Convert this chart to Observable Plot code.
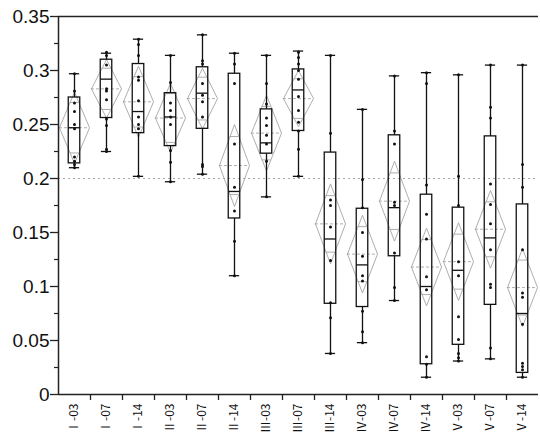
<!DOCTYPE html>
<html>
<head>
<meta charset="utf-8">
<script src="https://cdn.jsdelivr.net/npm/d3@7"></script>
<script src="https://cdn.jsdelivr.net/npm/@observablehq/plot@0.6"></script>
<style>
  html, body { margin: 0; padding: 0; background: #fff; }
  svg { display: block; }
</style>
</head>
<body>
<div id="chart"></div>
<script>
const categories = ["Ⅰ-03","Ⅰ-07","Ⅰ-14","Ⅱ-03","Ⅱ-07","Ⅱ-14","Ⅲ-03","Ⅲ-07","Ⅲ-14","Ⅳ-03","Ⅳ-07","Ⅳ-14","Ⅴ-03","Ⅴ-07","Ⅴ-14"];
const whiskerHigh = [0.297, 0.316, 0.329, 0.314, 0.333, 0.316, 0.314, 0.318, 0.314, 0.264, 0.295, 0.298, 0.296, 0.305, 0.305];
const q3 =          [0.275, 0.310, 0.306, 0.279, 0.303, 0.297, 0.264, 0.301, 0.224, 0.172, 0.240, 0.185, 0.173, 0.239, 0.176];
const median =      [0.247, 0.292, 0.262, 0.257, 0.279, 0.188, 0.233, 0.282, 0.144, 0.120, 0.173, 0.100, 0.115, 0.145, 0.075];
const q1 =          [0.214, 0.256, 0.242, 0.230, 0.246, 0.163, 0.223, 0.244, 0.084, 0.081, 0.128, 0.028, 0.046, 0.083, 0.020];
const whiskerLow =  [0.210, 0.225, 0.202, 0.197, 0.204, 0.110, 0.183, 0.202, 0.038, 0.048, 0.087, 0.016, 0.031, 0.033, 0.016];
const means =       [0.247, 0.283, 0.271, 0.256, 0.274, 0.212, 0.242, 0.274, 0.158, 0.130, 0.179, 0.118, 0.123, 0.153, 0.099];
const ciHalf =      [0.033, 0.027, 0.033, 0.032, 0.028, 0.038, 0.035, 0.026, 0.037, 0.036, 0.037, 0.036, 0.036, 0.036, 0.036];
const pointValues = [
  [0.297, 0.281, 0.270, 0.262, 0.250, 0.246, 0.220, 0.216, 0.213, 0.210],
  [0.317, 0.314, 0.305, 0.283, 0.281, 0.273, 0.255, 0.249, 0.227, 0.225],
  [0.329, 0.324, 0.314, 0.294, 0.291, 0.272, 0.257, 0.250, 0.246, 0.202],
  [0.314, 0.289, 0.270, 0.263, 0.257, 0.250, 0.226, 0.215, 0.197],
  [0.333, 0.309, 0.306, 0.288, 0.277, 0.271, 0.257, 0.213, 0.211, 0.204],
  [0.316, 0.306, 0.288, 0.232, 0.192, 0.170, 0.142, 0.110],
  [0.314, 0.288, 0.269, 0.256, 0.249, 0.240, 0.232, 0.216, 0.183],
  [0.317, 0.312, 0.306, 0.300, 0.292, 0.276, 0.263, 0.252, 0.244, 0.227, 0.202],
  [0.314, 0.242, 0.180, 0.175, 0.155, 0.124, 0.085, 0.071, 0.038],
  [0.264, 0.199, 0.173, 0.150, 0.128, 0.110, 0.105, 0.077, 0.058, 0.048],
  [0.295, 0.244, 0.232, 0.178, 0.175, 0.131, 0.099, 0.087],
  [0.298, 0.288, 0.194, 0.167, 0.144, 0.109, 0.097, 0.035, 0.028, 0.016],
  [0.296, 0.202, 0.175, 0.123, 0.110, 0.072, 0.051, 0.038, 0.034, 0.031],
  [0.305, 0.266, 0.256, 0.195, 0.176, 0.158, 0.134, 0.102, 0.099, 0.043, 0.033],
  [0.305, 0.213, 0.192, 0.134, 0.094, 0.090, 0.065, 0.029, 0.026, 0.023, 0.016]
];
const yTicks = [0, 0.05, 0.1, 0.15, 0.2, 0.25, 0.3, 0.35];
const yMinorTicks = [0.025, 0.075, 0.125, 0.175, 0.225, 0.275, 0.325];
const referenceLine = 0.2;

// derived tables
const idx = categories.map((_, i) => i);
const stats = idx.map(i => ({
  i, lo: whiskerLow[i], q1: q1[i], med: median[i], q3: q3[i], hi: whiskerHigh[i],
  mean: means[i], ci: ciHalf[i]
}));
const dW = 0.47;   // diamond half width (category units)
const bW = 0.18;   // box half width
const cW = 0.16;   // cap half width
const diamond = stats.flatMap(s => [
  {i: s.i, x: s.i - dW, y: s.mean},
  {i: s.i, x: s.i, y: s.mean + s.ci},
  {i: s.i, x: s.i + dW, y: s.mean},
  {i: s.i, x: s.i, y: s.mean - s.ci},
  {i: s.i, x: s.i - dW, y: s.mean}
]);
const k = 1 - Math.SQRT1_2;
const overlap = stats.flatMap(s => [
  {i: s.i, y: s.mean + s.ci * Math.SQRT1_2},
  {i: s.i, y: s.mean - s.ci * Math.SQRT1_2}
]);
const points = pointValues.flatMap((vals, i) => vals.map(v => ({i, v})));

const chart = Plot.plot({
  width: 540,
  height: 436,
  marginLeft: 58,
  marginRight: 2,
  marginTop: 16,
  marginBottom: 42,
  x: {type: "linear", domain: [-0.5, 14.5]},
  y: {domain: [0, 0.35]},
  style: {fontFamily: "'Liberation Sans', Arial, sans-serif", background: "#fff"},
  marks: [
    Plot.ruleY([referenceLine], {stroke: "#aaa", strokeWidth: 1, strokeDasharray: "2,3"}),
    // means diamonds
    Plot.line(diamond, {x: "x", y: "y", z: "i", stroke: "#a5a5a5", strokeWidth: 0.9}),
    Plot.ruleY(stats, {y: "mean", x1: d => d.i - dW, x2: d => d.i + dW, stroke: "#a5a5a5", strokeWidth: 0.9, strokeDasharray: "3,2"}),
    Plot.ruleY(overlap, {y: "y", x1: d => d.i - dW * k, x2: d => d.i + dW * k, stroke: "#a5a5a5", strokeWidth: 0.9}),
    // whiskers
    Plot.ruleX(stats, {x: "i", y1: "lo", y2: "q1", stroke: "#111", strokeWidth: 1.3}),
    Plot.ruleX(stats, {x: "i", y1: "q3", y2: "hi", stroke: "#111", strokeWidth: 1.3}),
    Plot.ruleY(stats, {y: "lo", x1: d => d.i - cW, x2: d => d.i + cW, stroke: "#111", strokeWidth: 1.3}),
    Plot.ruleY(stats, {y: "hi", x1: d => d.i - cW, x2: d => d.i + cW, stroke: "#111", strokeWidth: 1.3}),
    // boxes
    Plot.rect(stats, {x1: d => d.i - bW, x2: d => d.i + bW, y1: "q1", y2: "q3", fill: "none", stroke: "#111", strokeWidth: 1.3}),
    Plot.ruleY(stats, {y: "med", x1: d => d.i - bW, x2: d => d.i + bW, stroke: "#111", strokeWidth: 1.3}),
    // points
    Plot.dot(points, {x: "i", y: "v", r: 1.5, fill: "#111", stroke: "none"}),
    // frame lines
    Plot.ruleY([0.35], {stroke: "#222", strokeWidth: 1.5}),
    Plot.ruleY([0], {stroke: "#222", strokeWidth: 1.5}),
    Plot.ruleX([-0.5], {stroke: "#222", strokeWidth: 1.5}),
    // y axis
    Plot.axisY(yTicks, {tickSize: 8, tickPadding: 1, fontSize: 19, stroke: "#222", strokeWidth: 1.3, fill: "#111",
      tickFormat: d => String(+d.toFixed(2))}),
    Plot.axisY(yMinorTicks, {tickSize: 4, tickFormat: () => "", stroke: "#222", strokeWidth: 1.2}),
    // x axis: boundary ticks + rotated labels
    Plot.axisX(idx.slice(0, -1).map(i => i + 0.5), {tickSize: 6, tickFormat: () => "", stroke: "#222", strokeWidth: 1.3}),
    Plot.axisX(idx, {tickSize: 0, tickPadding: 9, tickRotate: -90, fontSize: 12, fill: "#111",
      fontFamily: "'Noto Sans CJK JP', sans-serif", tickFormat: i => categories[i]})
  ]
});
document.getElementById("chart").appendChild(chart);
</script>
</body>
</html>
